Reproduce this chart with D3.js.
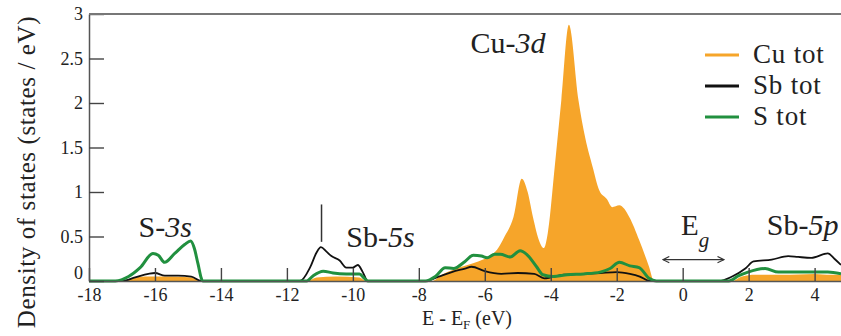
<!DOCTYPE html>
<html>
<head>
<meta charset="utf-8">
<script src="https://cdn.jsdelivr.net/npm/d3@7"></script>
<style>
  body { margin: 0; background: #fff; }
  svg text { font-family: "Liberation Serif", "DejaVu Serif", serif; fill: #222; }
</style>
</head>
<body>
<div id="chart"></div>
<script>
// energies (eV) relative to E_F, DOS in states/eV
const cuTot = [[-18,0],[-17.0,0],[-16.7,0.03],[-16.3,0.05],[-15.5,0.05],[-14.9,0.04],[-14.6,0],
  [-11.4,0],[-11.1,0.04],[-10.5,0.05],[-9.8,0.04],[-9.6,0],
  [-7.6,0],[-7.3,0.07],[-7.0,0.12],[-6.6,0.17],[-6.2,0.22],[-5.9,0.27],[-5.63,0.35],[-5.4,0.5],
  [-5.13,0.72],[-4.88,1.15],[-4.7,1.0],[-4.54,0.72],[-4.35,0.45],[-4.21,0.37],[-4.09,0.54],
  [-3.88,1.28],[-3.68,2.03],[-3.45,2.88],[-3.16,2.03],[-2.95,1.6],[-2.73,1.28],[-2.53,1.02],
  [-2.3,0.92],[-2.14,0.83],[-1.92,0.85],[-1.62,0.72],[-1.32,0.46],[-1.02,0.16],[-0.87,0],
  [1.5,0],[1.8,0.05],[2.2,0.07],[3.0,0.07],[4.0,0.08],[4.5,0.07],[4.8,0.07]];

const sbTot = [[-18,0],[-17.0,0],[-16.6,0.04],[-16.2,0.08],[-16.0,0.09],[-15.7,0.06],[-15.3,0.06],
  [-14.9,0.05],[-14.6,0],
  [-11.6,0],[-11.3,0.15],[-11.1,0.32],[-10.97,0.38],[-10.8,0.33],[-10.65,0.28],[-10.4,0.23],
  [-10.2,0.15],[-10.0,0.15],[-9.85,0.18],[-9.7,0.1],[-9.55,0],
  [-7.8,0],[-7.4,0.05],[-7.0,0.1],[-6.6,0.14],[-6.4,0.16],[-6.0,0.11],[-5.5,0.08],[-5.0,0.09],
  [-4.5,0.08],[-4.2,0.03],[-4.0,0.04],[-3.6,0.07],[-3.0,0.08],[-2.5,0.09],[-2.0,0.1],[-1.6,0.08],
  [-1.3,0.05],[-1.0,0],
  [1.1,0],[1.5,0.05],[1.9,0.14],[2.15,0.22],[2.7,0.24],[3.2,0.28],[3.5,0.27],[3.9,0.26],
  [4.4,0.31],[4.6,0.25],[4.8,0.18]];

const sTot = [[-18,0],[-17.2,0],[-16.8,0.05],[-16.45,0.15],[-16.06,0.31],[-15.9,0.29],[-15.71,0.21],
  [-15.4,0.31],[-15.1,0.41],[-14.92,0.45],[-14.8,0.36],[-14.7,0.2],[-14.55,0],
  [-11.4,0],[-11.2,0.06],[-10.9,0.11],[-10.6,0.09],[-10.2,0.08],[-9.8,0.08],[-9.65,0.03],[-9.55,0],
  [-7.8,0],[-7.5,0.05],[-7.2,0.15],[-6.95,0.14],[-6.6,0.22],[-6.35,0.29],[-6.1,0.28],[-5.93,0.26],
  [-5.7,0.3],[-5.53,0.3],[-5.23,0.27],[-4.93,0.34],[-4.73,0.3],[-4.43,0.16],[-4.24,0.07],
  [-3.93,0.05],[-3.5,0.07],[-3.0,0.08],[-2.5,0.1],[-2.2,0.14],[-1.92,0.21],[-1.6,0.17],
  [-1.32,0.15],[-1.02,0.03],[-0.8,0],
  [1.4,0],[1.7,0.06],[1.98,0.1],[2.5,0.14],[2.9,0.1],[3.5,0.1],[4.0,0.1],[4.4,0.1],[4.8,0.08]];

const xMajor = [-18, -16, -14, -12, -10, -8, -6, -4, -2, 0, 2, 4];
const xMinor = d3.range(-17.5, 4.8, 0.5).filter(d => !xMajor.includes(d));
const yMajor = [0, 0.5, 1, 1.5, 2, 2.5, 3];
const yMinor = [0.25, 0.75, 1.25, 1.75, 2.25, 2.75];

const series = [
  {name: "Cu tot", color: "#f6a52a"},
  {name: "Sb tot", color: "#111111"},
  {name: "S tot", color: "#21903f"}
];

const W = 841, H = 336;
const plotLeft = 89, plotTop = 14, plotBottom = 281;

const svg = d3.select("#chart").append("svg")
  .attr("width", W)
  .attr("height", H);

const x = d3.scaleLinear().domain([-18, 4.8]).range([plotLeft, W]);
const y = d3.scaleLinear().domain([0, 3]).range([plotBottom, plotTop]);

svg.append("clipPath").attr("id", "plotclip")
  .append("rect").attr("x", plotLeft).attr("y", plotTop)
  .attr("width", W - plotLeft).attr("height", plotBottom - plotTop + 2);

const plot = svg.append("g").attr("clip-path", "url(#plotclip)");

// Cu filled DOS
plot.append("path")
  .datum(cuTot)
  .attr("d", d3.area().x(d => x(d[0])).y0(y(0)).y1(d => y(d[1])).curve(d3.curveMonotoneX))
  .attr("fill", series[0].color);

// axes
const xAxisG = svg.append("g").attr("transform", "translate(0," + plotBottom + ")");
xAxisG.call(d3.axisBottom(x).tickValues(xMinor).tickSizeInner(-7).tickSizeOuter(0).tickFormat(""));
xAxisG.call(d3.axisBottom(x).tickValues(xMajor).tickSizeInner(-13).tickSizeOuter(0).tickPadding(7)
  .tickFormat(d => String(d)));

const yAxisG = svg.append("g").attr("transform", "translate(" + plotLeft + ",0)");
yAxisG.call(d3.axisLeft(y).tickValues(yMinor).tickSizeInner(-8).tickSizeOuter(0).tickFormat(""));
yAxisG.call(d3.axisLeft(y).tickValues(yMajor).tickSizeInner(-15).tickSizeOuter(0).tickPadding(6)
  .tickFormat(d => String(d)));

svg.selectAll("g").attr("font-family", null);
svg.selectAll(".domain").attr("stroke", "#555").attr("stroke-width", 1.5);
svg.selectAll(".tick line").attr("stroke", "#444").attr("stroke-width", 1.4);
svg.selectAll(".tick text")
  .style("font-size", "18px")
  .attr("fill", "#222");
// keep the "0" clear of the "-18" below it
yAxisG.selectAll(".tick text").filter(d => d === 0).attr("dy", "-0.15em");

// top frame line
svg.append("line")
  .attr("x1", plotLeft).attr("x2", W)
  .attr("y1", y(3)).attr("y2", y(3))
  .attr("stroke", "#777").attr("stroke-width", 2);

// Sb and S lines
const line = d3.line().x(d => x(d[0])).y(d => y(d[1])).curve(d3.curveMonotoneX);
plot.append("path").datum(sbTot).attr("d", line)
  .attr("fill", "none").attr("stroke", series[1].color).attr("stroke-width", 1.8);
plot.append("path").datum(sTot).attr("d", line)
  .attr("fill", "none").attr("stroke", series[2].color).attr("stroke-width", 3);

// axis titles
const xt = svg.append("text")
  .attr("x", 467).attr("y", 325)
  .attr("text-anchor", "middle")
  .style("font-size", "20px");
xt.append("tspan").text("E - E");
xt.append("tspan").attr("dy", 4).style("font-size", "13px").text("F");
xt.append("tspan").attr("dy", -4).text(" (eV)");

svg.append("text")
  .attr("transform", "translate(35," + 172 + ") rotate(-90)")
  .attr("text-anchor", "middle")
  .style("font-size", "25px")
  .style("letter-spacing", "0.6px")
  .text("Density of states (states / eV)");

// legend
const legend = svg.append("g").attr("transform", "translate(705,55)");
series.forEach((s, i) => {
  const g = legend.append("g").attr("transform", "translate(0," + (i * 31) + ")");
  g.append("line").attr("x1", 0).attr("x2", 34).attr("y1", 0).attr("y2", 0)
    .attr("stroke", s.color).attr("stroke-width", 3);
  g.append("text").attr("x", 48).attr("y", 8)
    .style("font-size", "27px")
    .style("letter-spacing", "0.8px")
    .text(s.name);
});

// peak annotations
function label(e, v, main, ital) {
  const t = svg.append("text").attr("x", x(e)).attr("y", y(v)).style("font-size", "30px");
  t.append("tspan").text(main);
  t.append("tspan").style("font-style", "italic").text(ital);
  return t;
}
label(-6.43, 2.56, "Cu-", "3d");
label(-16.5, 0.49, "S-", "3s");
label(-10.2, 0.38, "Sb-", "5s");
label(2.55, 0.52, "Sb-", "5p");

// Sb-5s marker
svg.append("line")
  .attr("x1", x(-10.95)).attr("x2", x(-10.95))
  .attr("y1", y(0.86)).attr("y2", y(0.44))
  .attr("stroke", "#333").attr("stroke-width", 1.5);

// band gap
const eg = svg.append("text").attr("x", x(-0.05)).attr("y", y(0.52)).style("font-size", "29px");
eg.append("tspan").text("E");
eg.append("tspan").attr("dy", 12).style("font-size", "21px").style("font-style", "italic").text("g");

svg.append("defs").append("marker")
  .attr("id", "chev")
  .attr("viewBox", "0 0 10 10")
  .attr("refX", 9).attr("refY", 5)
  .attr("markerWidth", 8).attr("markerHeight", 8)
  .attr("orient", "auto-start-reverse")
  .attr("markerUnits", "userSpaceOnUse")
  .append("path")
  .attr("d", "M1,1 L9,5 L1,9")
  .attr("fill", "none").attr("stroke", "#333").attr("stroke-width", 1.4);

svg.append("line")
  .attr("x1", x(-0.6)).attr("x2", x(1.25))
  .attr("y1", y(0.24)).attr("y2", y(0.24))
  .attr("stroke", "#333").attr("stroke-width", 1.4)
  .attr("marker-start", "url(#chev)")
  .attr("marker-end", "url(#chev)");
</script>
</body>
</html>
